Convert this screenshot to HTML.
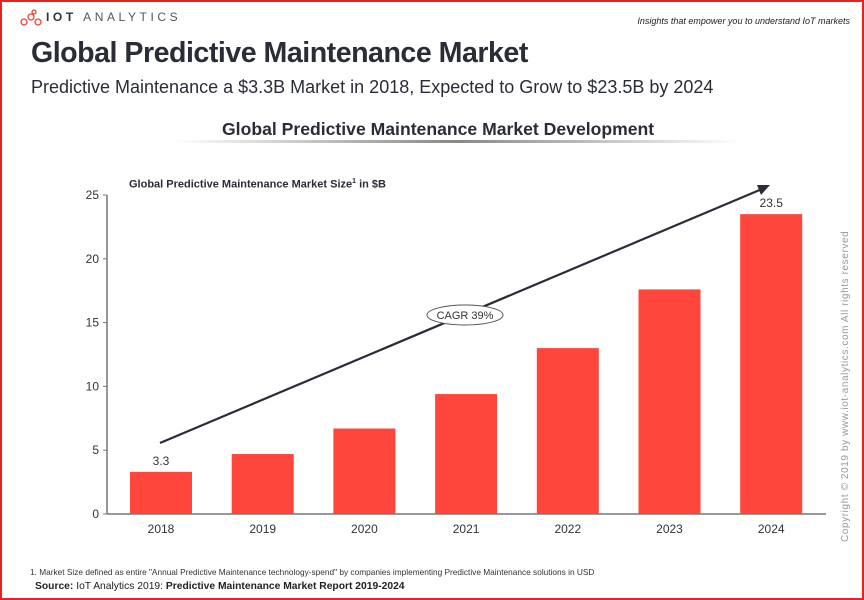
<!DOCTYPE html>
<html><head><meta charset="utf-8"><style>
body{margin:0;background:#fff;font-family:"Liberation Sans",sans-serif;}
#wrap{position:relative;width:860px;height:596px;border:2px solid #e8211f;overflow:hidden;}
.t{position:absolute;white-space:nowrap;}
</style></head><body>
<div id="wrap">
<svg class="t" style="left:18px;top:7px" width="22" height="18">
<circle cx="4" cy="13" r="3" fill="none" stroke="#e8463a" stroke-width="1.3"/><circle cx="11" cy="8" r="3" fill="none" stroke="#e8463a" stroke-width="1.3"/><circle cx="18" cy="13" r="3" fill="none" stroke="#e8463a" stroke-width="1.3"/><circle cx="14" cy="3" r="2" fill="none" stroke="#e8463a" stroke-width="1.3"/></svg>
<div class="t" style="left:44px;top:8px;font-size:12px;letter-spacing:3.6px;color:#555"><b style="color:#333">IOT</b> ANALYTICS</div>
<div class="t" style="right:12px;top:14px;font-size:9px;font-style:italic;color:#222">Insights that empower you to understand IoT markets</div>
<div class="t" style="left:29px;top:35px;font-size:28.6px;font-weight:bold;color:#2a2c38;letter-spacing:-0.5px">Global Predictive Maintenance Market</div>
<div class="t" style="left:29px;top:75px;font-size:18px;color:#2a2c38">Predictive Maintenance a $3.3B Market in 2018, Expected to Grow to $23.5B by 2024</div>
<div class="t" style="left:220px;top:117px;font-size:17.6px;font-weight:bold;color:#2a2c38">Global Predictive Maintenance Market Development</div>
<div class="t" style="left:170px;top:138px;width:570px;height:3px;background:linear-gradient(90deg,#fff,#888 50%,#fff)"></div>
<div class="t" style="left:127px;top:176px;font-size:11px;font-weight:bold;color:#2a2c38">Global Predictive Maintenance Market Size<sup style="font-size:7px">1</sup> in $B</div>
<svg id="chart" class="t" style="left:0;top:0" width="860" height="596"></svg>
<div class="t" style="left:838px;top:540px;transform:rotate(-90deg);transform-origin:0 0;font-size:10px;color:#999;letter-spacing:0.6px">Copyright © 2019 by www.iot-analytics.com All rights reserved</div>
<div class="t" style="left:28px;top:565px;font-size:8.3px;color:#333">1. Market Size defined as entire "Annual Predictive Maintenance technology-spend" by companies implementing Predictive Maintenance solutions in USD</div>
<div class="t" style="left:33px;top:579px;font-size:10.3px;color:#222"><b>Source:</b> IoT Analytics 2019: <b>Predictive Maintenance Market Report 2019-2024</b></div>
</div>
<script>
const categories=["2018","2019","2020","2021","2022","2023","2024"];
const values=[3.3,4.7,6.7,9.4,13.0,17.6,23.5];
const yTicks=[0,5,10,15,20,25];
const labels=["3.3","","","","","","23.5"];
const NS="http://www.w3.org/2000/svg";
const svg=document.getElementById("chart");
const y0=512,pxPer=12.76,axX=105,step=101.7,bw=62,firstX=128;
const y=v=>y0-v*pxPer;
const x=i=>firstX+i*step;
function mk(t,a){const e=document.createElementNS(NS,t);for(const k in a)e.setAttribute(k,a[k]);svg.appendChild(e);return e;}
let e=mk("line",{x1:axX,y1:y(25),x2:axX,y2:y0,stroke:"#777","stroke-width":1.5});


e=mk("line",{x1:axX,y1:y0,x2:824,y2:y0,stroke:"#777","stroke-width":1.5});


yTicks.forEach(t=>{
 let l=mk("line",{x1:axX-4,y1:y(t),x2:axX,y2:y(t),stroke:"#777"});
 
 
 let tx=mk("text",{x:axX-8,y:y(t)+4,"text-anchor":"end","font-size":12,fill:"#333","font-family":"Liberation Sans"});
 tx.textContent=t;
 
 
});
categories.forEach((c,i)=>{
 let r=mk("rect",{x:x(i),y:y(values[i]),width:bw,height:values[i]*pxPer,fill:"#fe463c"});
 
 
 let tx=mk("text",{x:x(i)+bw/2,y:y0+19,"text-anchor":"middle","font-size":12,fill:"#333","font-family":"Liberation Sans"});
 tx.textContent=c;
 
 
 if(labels[i]){let v=mk("text",{x:x(i)+bw/2,y:y(values[i])-7,"text-anchor":"middle","font-size":12,fill:"#333","font-family":"Liberation Sans"});
 v.textContent=labels[i];
 
 }
});
e=mk("line",{x1:158,y1:441,x2:760,y2:187,stroke:"#2a2c38","stroke-width":2.2});


e=mk("polygon",{points:"768,183 755,183 759,193",fill:"#2a2c38"});


e=mk("ellipse",{cx:463,cy:313,rx:38,ry:10,fill:"#fff",stroke:"#555"});


e=mk("text",{x:463,y:317,"text-anchor":"middle","font-size":11,fill:"#333","font-family":"Liberation Sans"});
e.textContent="CAGR 39%";


</script>
</body></html>
